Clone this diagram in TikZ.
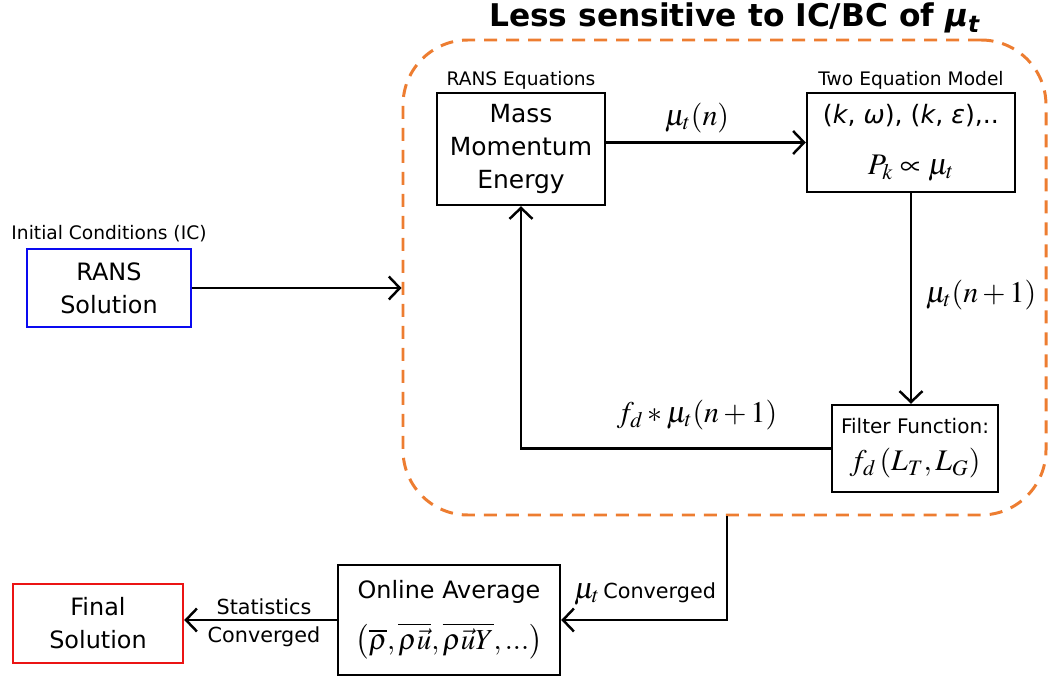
\documentclass[tikz,border=0pt]{standalone}
\usepackage{mathptmx}
\usepackage{fontspec}
\setmainfont{DejaVu Sans}
\usetikzlibrary{arrows.meta}
\definecolor{zoneorange}{RGB}{237,125,49}
\definecolor{icblue}{RGB}{10,10,240}
\definecolor{finalred}{RGB}{235,20,20}
\tikzset{
  box/.style={draw, line width=1.4pt, align=center, inner sep=0pt},
  tag/.style={font=\fontsize{10.6}{12}\selectfont, inner sep=1pt},
  flow/.style={line width=1.4pt, -{Straight Barb[length=2.2mm,width=4.6mm]}},
  mathlbl/.style={font=\fontsize{17}{19}\selectfont},
}

\begin{document}
\begin{tikzpicture}
        \useasboundingbox (0cm, 0cm) rectangle (20.98cm, -13.54cm);
        % region bounded by the orange dash
        \node (zone) [draw=zoneorange, line width=1.7pt, dash pattern=on 0.26cm off 0.18cm,
                rounded corners=1.3cm, minimum width=12.86cm, minimum height=9.5cm] at (14.49cm, -5.55cm) {};
        \node (title) [font=\fontsize{17.8}{20}\selectfont\bfseries] at (14.70cm, -0.36cm) {
Less sensitive to IC/BC of \textit{μ}\textsubscript{\textit{t}}};

        \node (mass) [box, minimum width=3.36cm, minimum height=2.24cm, font=\fontsize{14.2}{18.7}\selectfont,
                label={[tag]above:RANS Equations}] at (10.42cm, -2.98cm) {Mass\\Momentum\\Energy};
        \node (two) [box, minimum width=4.16cm, minimum height=1.98cm, font=\fontsize{14.4}{16}\selectfont,
                label={[tag]above:Two Equation Model}] at (18.22cm, -2.85cm) {
(\textit{k}, \textit{ω}), (\textit{k}, \textit{ε}),..\\[13pt]
{\fontsize{17}{19}\selectfont$P_k\propto\mu_t$}};
        \node (filter) [box, minimum width=3.32cm, minimum height=1.74cm, font=\fontsize{11.4}{13}\selectfont] at (18.30cm, -8.97cm) {
Filter Function:\\[8pt]
{\fontsize{17}{19}\selectfont$f_d\left(L_T,L_G\right)$}};
        \node (rans) [box, draw=icblue, minimum width=3.28cm, minimum height=1.56cm, font=\fontsize{13.6}{18.7}\selectfont,
                label={[tag, yshift=2pt]above:Initial Conditions (IC)}] at (2.18cm, -5.76cm) {RANS\\Solution};
        \node (online) [box, minimum width=4.44cm, minimum height=2.2cm, font=\fontsize{13.6}{16}\selectfont] at (8.98cm, -12.40cm) {
Online Average\\[10pt]
{\fontsize{16.5}{19}\selectfont$\left(\overline{\rho},\overline{\rho\vec{u}},\overline{\rho\vec{u}Y},...\right)$}};
        \node (final) [box, draw=finalred, minimum width=3.4cm, minimum height=1.58cm, font=\fontsize{13.6}{18.7}\selectfont] at (1.96cm, -12.47cm) {
Final\\Solution};

        \node (mun) [mathlbl] at (13.94cm, -2.36cm) {$\mu_t(n)$};
        \node (munext) [mathlbl] at (19.62cm, -5.90cm) {$\mu_t(n+1)$};
        \node (fdmu) [mathlbl] at (13.94cm, -8.30cm) {$f_d*\mu_t(n+1)$};
        \node (muconv) [font=\fontsize{11.8}{14}\selectfont] at (12.90cm, -11.88cm) {
{\fontsize{17}{19}\selectfont$\mu_t$}\,Converged};
        \node (statconv) [align=center, font=\fontsize{11.8}{16}\selectfont] at (5.28cm, -12.46cm) {
Statistics\\Converged};

        \draw [flow] (mass.east |- two.west) -- (two.west);
        \draw [flow] (two.south) -- (two.south |- filter.north);
        \draw [flow] (filter.west) -| (mass.south);
        \draw [flow] (rans.east) -- (rans.east -| zone.west);
        \draw [flow] ([xshift=0.05cm]zone.south) |- (online.east);
        \draw [flow] (online.west) -- (online.west -| final.east);
\end{tikzpicture}
\end{document}
